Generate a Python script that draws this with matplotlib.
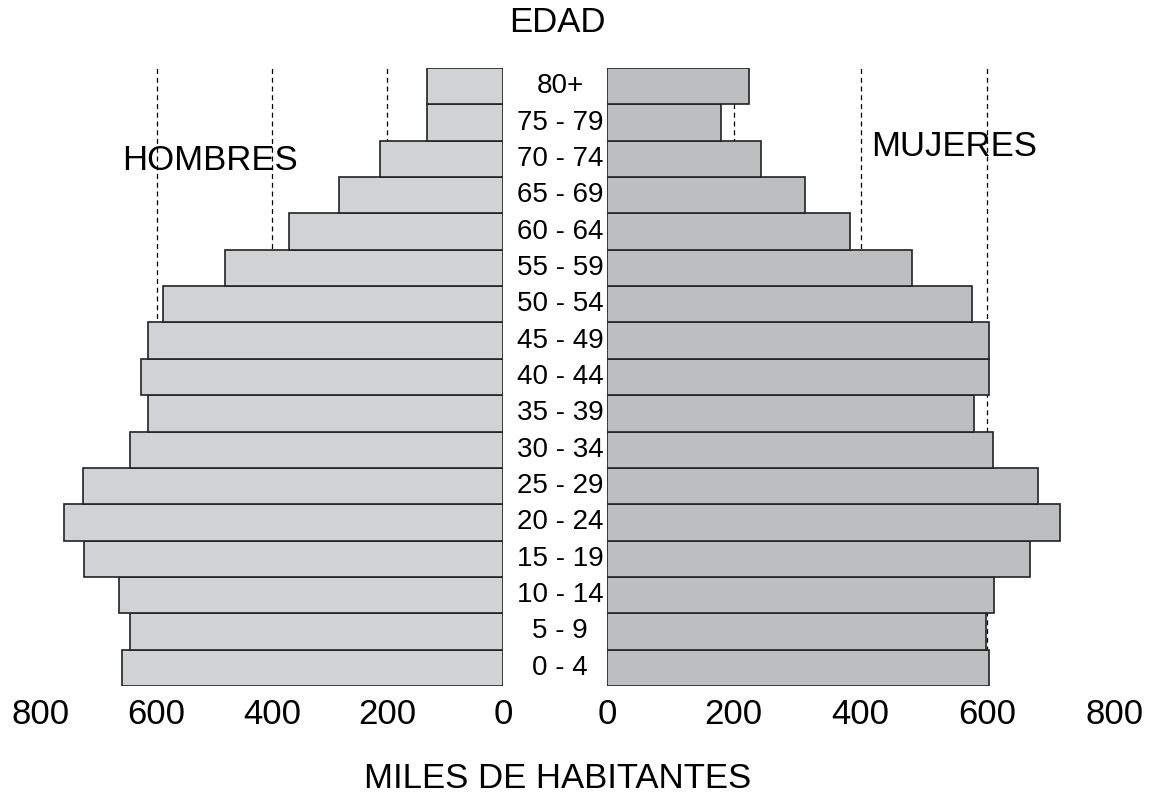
import matplotlib.pyplot as plt
from matplotlib.transforms import blended_transform_factory

plt.rcParams['font.family'] = ['Liberation Sans', 'DejaVu Sans']

# age groups, bottom to top
edades = ['0 - 4', '5 - 9', '10 - 14', '15 - 19', '20 - 24', '25 - 29', '30 - 34',
          '35 - 39', '40 - 44', '45 - 49', '50 - 54', '55 - 59', '60 - 64',
          '65 - 69', '70 - 74', '75 - 79', '80+']
hombres = [660, 646, 665, 726, 760, 727, 646, 615, 627, 615, 589, 481, 371,
           284, 213, 132, 132]
mujeres = [603, 598, 610, 667, 715, 680, 609, 579, 603, 603, 576, 481, 383,
           312, 243, 180, 224]
ticks = [0, 200, 400, 600, 800]
guias = [200, 400, 600]

W, H = 1157, 796
fig = plt.figure(figsize=(W / 100, H / 100), dpi=100)

xmax = 820
bot, top = 686, 68
# left panel: 0.5775 px per unit, right panel: 0.634 px per unit
l_right = 503
l_width = xmax * 0.5775
r_left = 607
r_width = xmax * 0.634

ax_l = fig.add_axes([(l_right - l_width) / W, (H - bot) / H, l_width / W, (bot - top) / H])
ax_r = fig.add_axes([r_left / W, (H - bot) / H, r_width / W, (bot - top) / H])

y = list(range(len(edades)))
ax_l.barh(y, hombres, height=1.0, color='#d1d2d4', edgecolor='#222222', linewidth=1.2, zorder=2)
ax_r.barh(y, mujeres, height=1.0, color='#bdbec0', edgecolor='#222222', linewidth=1.2, zorder=2)

for ax in (ax_l, ax_r):
    for g in guias:
        ax.axvline(g, color='black', linewidth=0.9, linestyle=(0, (4, 3)), zorder=1)
    ax.set_xlim(0, xmax)
    ax.set_ylim(-0.5, 16.5)
    ax.set_xticks(ticks)
    ax.set_xticklabels([str(t) for t in ticks], fontsize=25)
    ax.tick_params(axis='x', length=0, pad=9)
    ax.set_yticks([])
    for s in ax.spines.values():
        s.set_visible(False)

ax_l.invert_xaxis()

tr = blended_transform_factory(fig.transFigure, ax_l.transData)
for i, lab in enumerate(edades):
    ax_l.text(560 / W, i, lab, transform=tr, ha='center', va='center', fontsize=20)

fig.text(557 / W, 1 - 22 / H, 'EDAD', ha='center', va='center', fontsize=25)
fig.text(558 / W, 1 - 778 / H, 'MILES DE HABITANTES', ha='center', va='center', fontsize=25)
fig.text(210 / W, 1 - 160 / H, 'HOMBRES', ha='center', va='center', fontsize=25)
fig.text(954 / W, 1 - 147 / H, 'MUJERES', ha='center', va='center', fontsize=25)

fig.savefig('out.png', dpi=100)
